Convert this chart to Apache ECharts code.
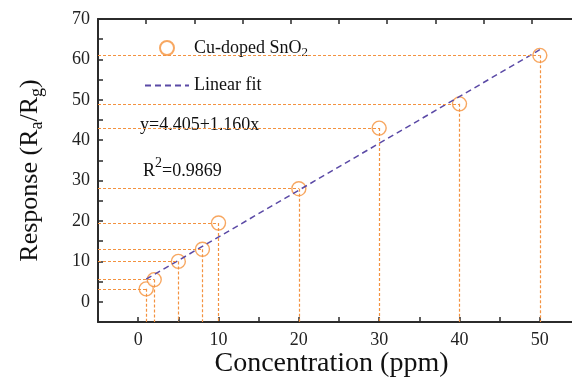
<!DOCTYPE html>
<html>
<head>
<meta charset="utf-8">
<script src="https://cdn.jsdelivr.net/npm/echarts@6/dist/echarts.min.js"></script>
<style>
  html, body { margin: 0; padding: 0; background: #fff; }
  #chart { width: 572px; height: 378px; }
</style>
</head>
<body>
<div id="chart"></div>
<script>
// 数据
const concentration = [1, 2, 5, 8, 10, 20, 30, 40, 50];
const response = [3.2, 5.5, 10, 13, 19.5, 28, 43, 49, 61];
const fitX = [1, 50];
const fitY = [5.6, 62.4];
const xLabels = [0, 10, 20, 30, 40, 50];
const yLabels = [0, 10, 20, 30, 40, 50, 60, 70];

const orange = '#f5913a';
const dropColor = '#f39240';
const purple = '#5b4aa6';
const axisColor = '#2b2b2b';
const font = 'Liberation Serif';

const myChart = echarts.init(document.getElementById('chart'));

// 虚线：点到坐标轴
const dropStyle = { color: dropColor, type: [3, 2], width: 1.2 };
const dropLines = [];
concentration.forEach((x, i) => {
    const y = response[i];
    dropLines.push([{ coord: [-5, y], lineStyle: dropStyle }, { coord: [x, y] }]);
    dropLines.push([{ coord: [x, y], lineStyle: dropStyle }, { coord: [x, -5] }]);
});

const option = {
    animation: false,
    grid: { left: 98, right: -8, top: 19, bottom: 56, outerBoundsMode: 'none' },
    legend: {
        orient: 'vertical',
        left: 139,
        top: 34,
        itemWidth: 44,
        itemHeight: 14,
        itemGap: 17,
        textStyle: {
            fontFamily: font,
            fontSize: 18,
            color: '#111',
            rich: {
                t: { fontFamily: font, fontSize: 18, color: '#111' },
                s: { fontFamily: font, fontSize: 13, color: '#111', padding: [10, 0, 0, 0] }
            }
        },
        formatter: name => name === 'Cu-doped SnO2' ? '{t|Cu-doped SnO}{s|2}' : '{t|' + name + '}',
        data: ['Cu-doped SnO2', { name: 'Linear fit', itemStyle: { opacity: 0 } }]
    },
    xAxis: [
        {
            type: 'value',
            min: -5,
            max: 55,
            interval: 5,
            name: 'Concentration (ppm)',
            nameLocation: 'middle',
            nameGap: 28,
            nameMoveOverlap: false,
            nameTextStyle: { fontFamily: font, fontSize: 28, color: '#111', padding: [0, 15, 0, 0] },
            axisLine: { onZero: false, lineStyle: { color: axisColor, width: 2 } },
            axisTick: { inside: true, length: 5, lineStyle: { color: axisColor, width: 1.5 } },
            axisLabel: {
                fontFamily: font, fontSize: 18, color: '#222', margin: 9,
                formatter: v => xLabels.includes(v) ? String(v) : ''
            },
            splitLine: { show: false }
        },
        {
            // 顶部边框
            type: 'value',
            position: 'top',
            min: 0,
            max: 60,
            interval: 6,
            axisLine: { onZero: false, lineStyle: { color: axisColor, width: 2 } },
            axisTick: { inside: true, length: 5, lineStyle: { color: axisColor, width: 1.5 } },
            axisLabel: { show: false },
            splitLine: { show: false }
        }
    ],
    yAxis: {
        type: 'value',
        min: -5,
        max: 70,
        interval: 5,
        name: '{t|Response (R}{s|a}{t|/R}{s|g}{t|)}',
        nameLocation: 'middle',
        nameRotate: 90,
        nameGap: 52,
        nameMoveOverlap: false,
        nameTextStyle: {
            fontFamily: font,
            fontSize: 26,
            color: '#111',
            rich: {
                t: { fontFamily: font, fontSize: 26, color: '#111' },
                s: { fontFamily: font, fontSize: 18, color: '#111', padding: [14, 0, 0, 0] }
            }
        },
        axisLine: { onZero: false, lineStyle: { color: axisColor, width: 2 } },
        axisTick: { inside: true, length: 5, lineStyle: { color: axisColor, width: 1.5 } },
        axisLabel: {
            fontFamily: font, fontSize: 18, color: '#222', margin: 8,
            formatter: v => yLabels.includes(v) ? String(v) : ''
        },
        splitLine: { show: false }
    },
    graphic: [
        {
            type: 'text',
            left: 140,
            top: 116,
            style: { text: 'y=4.405+1.160x', font: '18px "Liberation Serif"', fill: '#111' }
        },
        {
            type: 'text',
            left: 143,
            top: 156,
            style: {
                text: '{t|R}{p|2}{t|=0.9869}',
                rich: {
                    t: { fontFamily: font, fontSize: 18, fill: '#111', padding: [8, 0, 0, 0] },
                    p: { fontFamily: font, fontSize: 14, fill: '#111', padding: [0, 0, 8, 0] }
                }
            }
        }
    ],
    series: [
        {
            name: 'drop',
            type: 'line',
            data: [],
            z: 1,
            itemStyle: { color: dropColor },
            markLine: {
                silent: true,
                symbol: 'none',
                label: { show: false },
                lineStyle: dropStyle,
                data: dropLines
            }
        },
        {
            name: 'Linear fit',
            type: 'line',
            data: fitX.map((x, i) => [x, fitY[i]]),
            symbol: 'none',
            z: 4,
            lineStyle: { color: purple, width: 1.5, type: [6, 4] },
            itemStyle: { color: purple }
        },
        {
            name: 'Cu-doped SnO2',
            type: 'scatter',
            data: concentration.map((x, i) => [x, response[i]]),
            symbol: 'circle',
            symbolSize: 14,
            z: 3,
            itemStyle: { color: '#fff', borderColor: orange, borderWidth: 1.4 }
        }
    ]
};

option && myChart.setOption(option);
</script>
</body>
</html>
